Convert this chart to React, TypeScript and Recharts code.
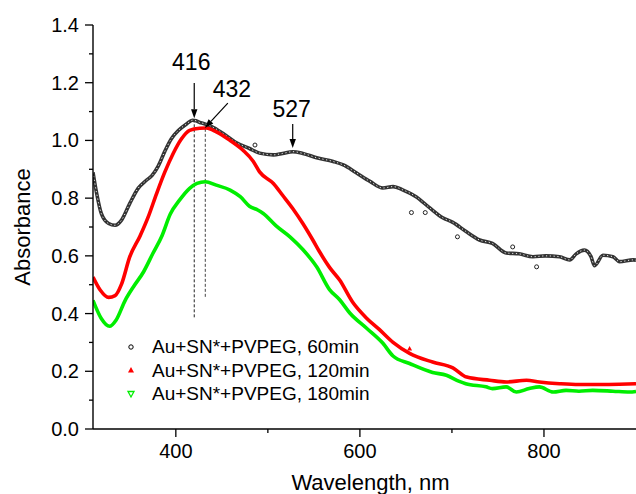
import React from "react";
import {
  ComposedChart,
  Line,
  Scatter,
  XAxis,
  YAxis,
  ReferenceLine,
} from "recharts";

// wavelength (nm) / absorbance
const nm60 = [310, 314, 319, 327, 334, 341, 350, 359, 368, 374, 381, 388, 395, 403, 412, 418, 422, 426, 430, 439, 451, 466, 480, 491, 506, 516, 527, 538, 553, 571, 582, 596, 611, 625, 636, 647, 661, 676, 690, 701, 715, 730, 744, 759, 773, 788, 802, 817, 828, 835, 844, 851, 855, 864, 875, 882, 897, 900];
const abs60 = [0.89, 0.816, 0.747, 0.712, 0.706, 0.724, 0.782, 0.834, 0.862, 0.878, 0.912, 0.962, 1.005, 1.035, 1.058, 1.07, 1.068, 1.062, 1.059, 1.048, 1.025, 0.992, 0.972, 0.956, 0.95, 0.955, 0.961, 0.955, 0.94, 0.927, 0.915, 0.888, 0.858, 0.835, 0.84, 0.828, 0.805, 0.766, 0.732, 0.716, 0.685, 0.655, 0.643, 0.61, 0.607, 0.597, 0.6, 0.597, 0.586, 0.607, 0.62, 0.598, 0.566, 0.602, 0.597, 0.58, 0.586, 0.585];
// stray points of the 60 min scan
const nm60Stray = [486, 656, 671, 706, 766, 792];
const abs60Stray = [0.984, 0.75, 0.75, 0.666, 0.631, 0.562];

const nm120 = [310, 318, 327, 334, 341, 350, 361, 370, 379, 388, 397, 406, 415, 426, 433, 444, 459, 473, 484, 491, 506, 516, 527, 538, 549, 556, 567, 578, 592, 607, 621, 636, 654, 679, 701, 716, 741, 759, 781, 795, 817, 838, 860, 882, 900];
const abs120 = [0.527, 0.481, 0.456, 0.462, 0.502, 0.597, 0.668, 0.735, 0.815, 0.89, 0.954, 1.005, 1.035, 1.042, 1.043, 1.03, 1.0, 0.966, 0.928, 0.891, 0.851, 0.81, 0.764, 0.712, 0.654, 0.615, 0.56, 0.516, 0.44, 0.385, 0.345, 0.3, 0.262, 0.232, 0.212, 0.18, 0.169, 0.163, 0.169, 0.163, 0.157, 0.154, 0.154, 0.155, 0.157];
const nm120Stray = [654];
const abs120Stray = [0.279];

const nm180 = [310, 319, 328, 335, 345, 354, 365, 375, 385, 394, 404, 415, 423, 432, 444, 459, 470, 480, 489, 495, 509, 524, 538, 553, 567, 578, 589, 607, 625, 636, 654, 679, 694, 708, 715, 737, 744, 759, 770, 784, 795, 810, 824, 838, 853, 875, 893, 900];
const abs180 = [0.446, 0.383, 0.356, 0.377, 0.446, 0.493, 0.545, 0.608, 0.67, 0.745, 0.793, 0.834, 0.851, 0.857, 0.845, 0.828, 0.805, 0.772, 0.759, 0.747, 0.704, 0.666, 0.622, 0.562, 0.483, 0.448, 0.402, 0.35, 0.297, 0.253, 0.227, 0.196, 0.186, 0.165, 0.157, 0.146, 0.14, 0.146, 0.128, 0.14, 0.146, 0.128, 0.134, 0.131, 0.134, 0.131, 0.128, 0.13];

const yTicks = [0, 0.1, 0.2, 0.3, 0.4, 0.5, 0.6, 0.7, 0.8, 0.9, 1.0, 1.1, 1.2, 1.3, 1.4];
const xTicks = [400, 500, 600, 700, 800];
const xMajor = [400, 600, 800];

const legendNames = [
  "Au+SN*+PVPEG, 60min",
  "Au+SN*+PVPEG, 120min",
  "Au+SN*+PVPEG, 180min",
];

const FONT = "'Liberation Sans', Arial, sans-serif";

const zip = (xs: number[], ys: number[]) => xs.map((x, i) => ({ x, y: ys[i] }));

const s60 = zip(nm60, abs60);
const s60Stray = zip(nm60Stray, abs60Stray);
const s120 = zip(nm120, abs120);
const s120Stray = zip(nm120Stray, abs120Stray);
const s180 = zip(nm180, abs180);

function YTick({ x, y, payload }: any) {
  const v = payload.value;
  const major = Math.round(v * 10) % 2 === 0;
  return (
    <g>
      <line x1={x + (major ? 6 : 10)} x2={x + 14} y1={y} y2={y} stroke="#000" strokeWidth={1.3} />
      {major && (
        <text x={x} y={y} dy={7} textAnchor="end" fontSize={20} fontFamily={FONT} fill="#000">
          {v.toFixed(1)}
        </text>
      )}
    </g>
  );
}

function XTick({ x, y, payload }: any) {
  const v = payload.value;
  const major = xMajor.includes(v);
  return (
    <g>
      <line x1={x} x2={x} y1={y - 15} y2={y - (major ? 7 : 11)} stroke="#000" strokeWidth={1.3} />
      {major && (
        <text x={x} y={y} dy={14} textAnchor="middle" fontSize={20} fontFamily={FONT} fill="#000">
          {v}
        </text>
      )}
    </g>
  );
}

function arrow(label: string, dx: number, dy: number) {
  return (p: any) => {
    const { x1, y1, x2, y2 } = p;
    const a = Math.atan2(y2 - y1, x2 - x1);
    const len = 9;
    const half = 3.2;
    const bx = x2 - len * Math.cos(a);
    const by = y2 - len * Math.sin(a);
    const nx = -Math.sin(a) * half;
    const ny = Math.cos(a) * half;
    return (
      <g>
        <line x1={x1} y1={y1} x2={bx} y2={by} stroke="#000" strokeWidth={1.2} />
        <polygon points={`${x2},${y2} ${bx + nx},${by + ny} ${bx - nx},${by - ny}`} fill="#000" />
        <text x={x1 + dx} y={y1 + dy} textAnchor="middle" fontSize={23} fontFamily={FONT} fill="#000">
          {label}
        </text>
      </g>
    );
  };
}

const openDot = (p: any) => <circle cx={p.cx} cy={p.cy} r={2} fill="#fff" stroke="#222" strokeWidth={1} />;
const redTri = (p: any) => <polygon points={`${p.cx},${p.cy - 2.5} ${p.cx + 2.5},${p.cy + 2} ${p.cx - 2.5},${p.cy + 2}`} fill="#ff0000" />;

function LegendBox() {
  const colors = ["#000", "#ff0000", "#00ee00"];
  return (
    <div style={{ position: "absolute", left: 120, top: 335, fontFamily: FONT, fontSize: 19, lineHeight: "23.5px" }}>
      {legendNames.map((name, i) => (
        <div key={name} style={{ display: "flex", alignItems: "center", height: 23.5 }}>
          <svg width={32} height={12}>
            {i === 0 && <circle cx={11} cy={6} r={2.2} fill="none" stroke={colors[0]} strokeWidth={1} />}
            {i === 1 && <polygon points="11,3 14,8.5 8,8.5" fill={colors[1]} />}
            {i === 2 && <polygon points="8,3.5 14,3.5 11,9" fill="none" stroke={colors[2]} strokeWidth={1.3} />}
          </svg>
          <span>{name}</span>
        </div>
      ))}
    </div>
  );
}

export default function App() {
  return (
    <div style={{ position: "absolute", left: 0, top: 0, width: 636, height: 494, background: "#fff", overflow: "hidden" }}>
      <ComposedChart width={636} height={494} margin={{ top: 25, right: 0, bottom: 0, left: 0 }}>
        <XAxis
          type="number"
          dataKey="x"
          domain={[310, 900]}
          allowDataOverflow
          ticks={xTicks}
          interval={0}
          tickSize={8}
          tickMargin={7}
          tickLine={false}
          tick={<XTick />}
          height={65}
          axisLine={{ stroke: "#000", strokeWidth: 1.4 }}
          label={{
            value: "Wavelength, nm",
            position: "insideBottom",
            offset: 4,
            dx: 6,
            fill: "#000",
            fontSize: 22,
            fontFamily: FONT,
          }}
        />
        <YAxis
          type="number"
          dataKey="y"
          domain={[0, 1.4]}
          allowDataOverflow
          ticks={yTicks}
          interval={0}
          tickSize={8}
          tickMargin={6}
          tickLine={false}
          tick={<YTick />}
          width={93}
          axisLine={{ stroke: "#000", strokeWidth: 1.4 }}
          label={{
            value: "Absorbance",
            angle: -90,
            position: "center",
            dx: -24,
            fill: "#000",
            fontSize: 22,
            fontFamily: FONT,
          }}
        />
        {/* peak markers */}
        <ReferenceLine segment={[{ x: 420, y: 0.387 }, { x: 420, y: 1.071 }]} stroke="#222" strokeDasharray="3 2" strokeWidth={1} />
        <ReferenceLine segment={[{ x: 432, y: 0.458 }, { x: 432, y: 1.042 }]} stroke="#444" strokeDasharray="3 2" strokeWidth={1} />
        <Line data={s60} dataKey="y" type="monotone" stroke="#333" strokeWidth={3.6} dot={false} isAnimationActive={false} />
        <Line data={s60} dataKey="y" type="monotone" stroke="#fff" strokeWidth={0.9} strokeDasharray="1.2 2.6" dot={false} isAnimationActive={false} />
        <Scatter data={s60Stray} dataKey="y" shape={openDot} isAnimationActive={false} />
        <Line data={s120} dataKey="y" type="monotone" stroke="#ff0000" strokeWidth={3.6} dot={false} isAnimationActive={false} />
        <Scatter data={s120Stray} dataKey="y" shape={redTri} isAnimationActive={false} />
        <Line data={s180} dataKey="y" type="monotone" stroke="#00ee00" strokeWidth={3.6} dot={false} isAnimationActive={false} />
        <ReferenceLine segment={[{ x: 420, y: 1.199 }, { x: 420, y: 1.077 }]} shape={arrow("416", -3, -13)} />
        <ReferenceLine segment={[{ x: 456.5, y: 1.129 }, { x: 431.5, y: 1.043 }]} shape={arrow("432", 4, -6)} />
        <ReferenceLine segment={[{ x: 527, y: 1.057 }, { x: 527, y: 0.974 }]} shape={arrow("527", -1, -7)} />
      </ComposedChart>
      <LegendBox />
    </div>
  );
}
